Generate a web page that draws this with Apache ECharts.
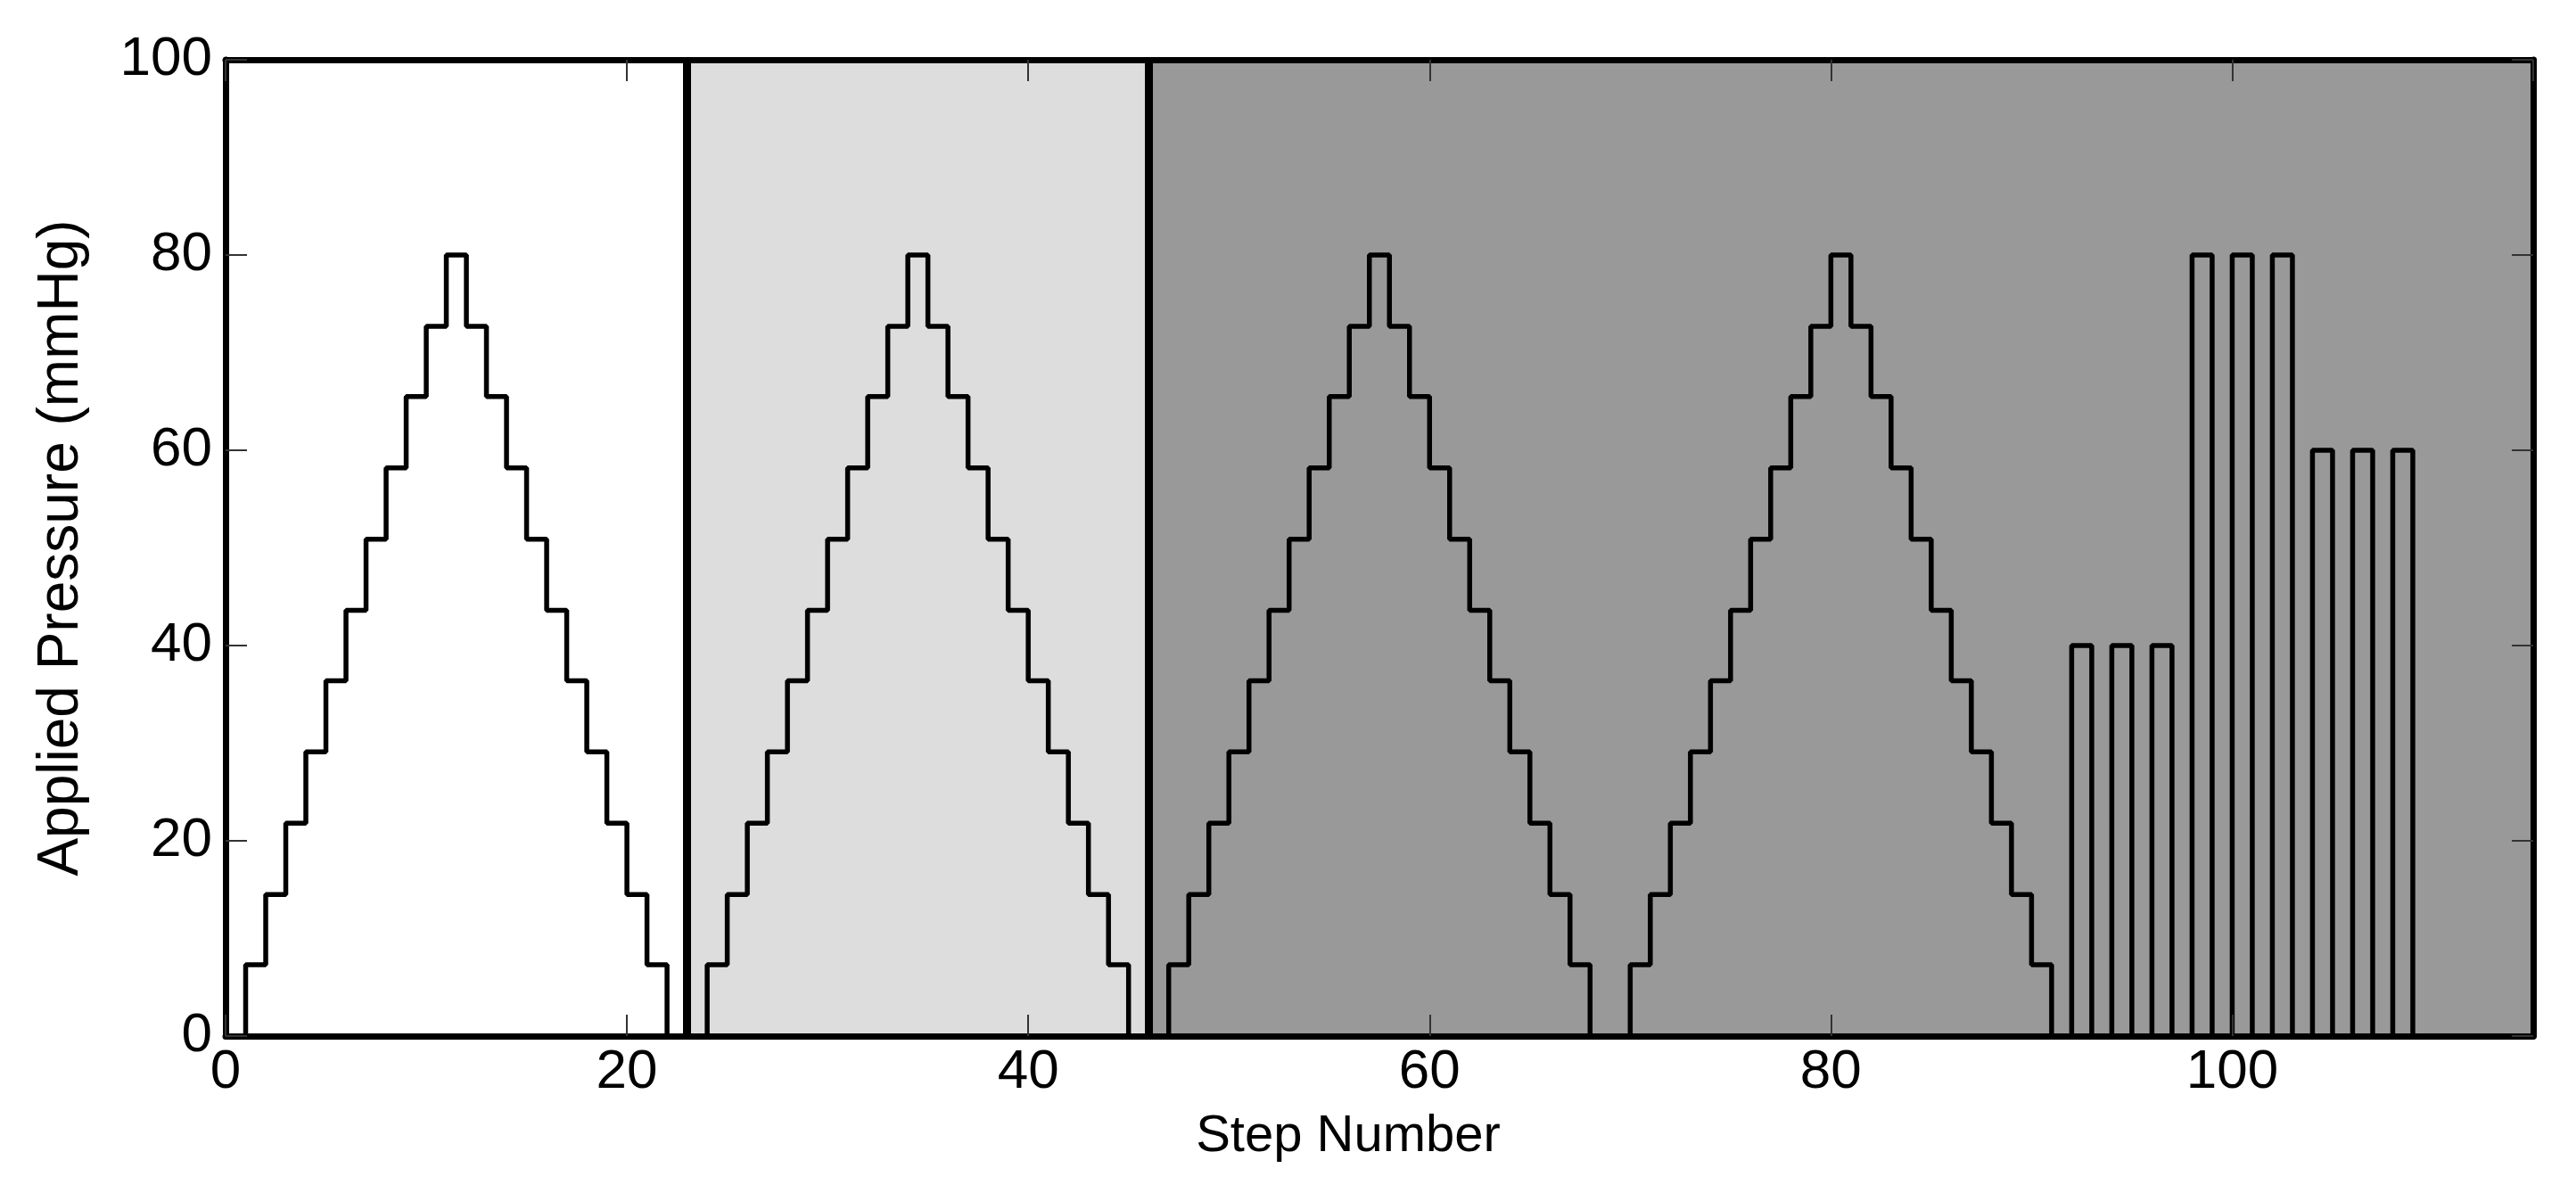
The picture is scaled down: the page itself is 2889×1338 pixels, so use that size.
<!DOCTYPE html>
<html>
<head>
<meta charset="utf-8">
<script src="https://cdn.jsdelivr.net/npm/echarts@6/dist/echarts.min.js"></script>
<style>
  html, body { margin: 0; padding: 0; background: #fff; }
  #chart { width: 2889px; height: 1338px; }
</style>
</head>
<body>
<div id="chart"></div>
<script>
// applied pressure (mmHg) at each step number, step i lasts from i to i+1
const pressure = [
  0, 7.3, 14.5, 21.8, 29.1, 36.4, 43.6, 50.9, 58.2, 65.5, 72.7, 80,
  72.7, 65.5, 58.2, 50.9, 43.6, 36.4, 29.1, 21.8, 14.5, 7.3, 0,
  0, 7.3, 14.5, 21.8, 29.1, 36.4, 43.6, 50.9, 58.2, 65.5, 72.7, 80,
  72.7, 65.5, 58.2, 50.9, 43.6, 36.4, 29.1, 21.8, 14.5, 7.3, 0,
  0, 7.3, 14.5, 21.8, 29.1, 36.4, 43.6, 50.9, 58.2, 65.5, 72.7, 80,
  72.7, 65.5, 58.2, 50.9, 43.6, 36.4, 29.1, 21.8, 14.5, 7.3, 0, 0,
  7.3, 14.5, 21.8, 29.1, 36.4, 43.6, 50.9, 58.2, 65.5, 72.7, 80,
  72.7, 65.5, 58.2, 50.9, 43.6, 36.4, 29.1, 21.8, 14.5, 7.3, 0,
  40, 0, 40, 0, 40, 0, 80, 0, 80, 0, 80, 0, 60, 0, 60, 0, 60, 0, 0
];
// shaded phases along the step axis
const phaseStart = [0, 23, 46];
const phaseEnd = [23, 46, 115];
const phaseBounds = [23, 46];
const xTicks = [0, 20, 40, 60, 80, 100];
const yTicks = [0, 20, 40, 60, 80, 100];

const phaseColors = ["#ffffff", "#dddddd", "#999999"];
const font = "Liberation Sans, Arial, sans-serif";

const chart = echarts.init(document.getElementById("chart"));

const tickStyle = {
  show: true,
  inside: true,
  length: 24,
  lineStyle: { color: "#333", width: 2 }
};
const borderLine = {
  show: true,
  onZero: false,
  lineStyle: { color: "#000", width: 7 }
};

const option = {
  animation: false,
  backgroundColor: "#fff",
  grid: { left: 253, right: 48, top: 67, bottom: 176 },
  xAxis: [
    {
      type: "value",
      min: 0,
      max: 115,
      interval: 20,
      z: 10,
      name: "Step Number",
      nameLocation: "middle",
      nameGap: 84,
      nameTextStyle: { fontFamily: font, fontSize: 58, color: "#000", padding: [0, 70, 0, 0] },
      axisLine: borderLine,
      axisTick: tickStyle,
      splitLine: { show: false },
      axisLabel: {
        fontFamily: font,
        fontSize: 62,
        color: "#000",
        margin: 10,
        showMaxLabel: false,
        formatter: v => (xTicks.indexOf(v) >= 0 ? String(v) : "")
      }
    },
    {
      type: "value",
      position: "top",
      min: 0,
      max: 115,
      interval: 20,
      z: 10,
      axisLine: borderLine,
      axisTick: tickStyle,
      axisLabel: { show: false },
      splitLine: { show: false }
    }
  ],
  yAxis: [
    {
      type: "value",
      min: 0,
      max: 100,
      interval: 20,
      z: 10,
      name: "Applied Pressure (mmHg)",
      nameLocation: "middle",
      nameGap: 152,
      nameTextStyle: { fontFamily: font, fontSize: 64, color: "#000" },
      axisLine: borderLine,
      axisTick: tickStyle,
      splitLine: { show: false },
      axisLabel: {
        fontFamily: font,
        fontSize: 62,
        color: "#000",
        margin: 15,
        formatter: v => (yTicks.indexOf(v) >= 0 ? String(v) : "")
      }
    },
    {
      type: "value",
      position: "right",
      min: 0,
      max: 100,
      interval: 20,
      z: 10,
      axisLine: borderLine,
      axisTick: tickStyle,
      axisLabel: { show: false },
      splitLine: { show: false }
    }
  ],
  series: [
    {
      // background phases and their separators
      type: "line",
      z: 1,
      data: [],
      silent: true,
      markArea: {
        silent: true,
        data: phaseStart.map((s, i) => [
          { xAxis: s, itemStyle: { color: phaseColors[i], opacity: 1 } },
          { xAxis: phaseEnd[i] }
        ])
      },
      markLine: {
        silent: true,
        symbol: "none",
        label: { show: false },
        lineStyle: { color: "#000", width: 9, type: "solid" },
        data: phaseBounds.map(b => ({ xAxis: b }))
      }
    },
    {
      type: "line",
      z: 5,
      step: "end",
      symbol: "none",
      lineStyle: { color: "#000", width: 5.5 },
      data: pressure.map((v, i) => [i, v])
    }
  ]
};

chart.setOption(option);
</script>
</body>
</html>
